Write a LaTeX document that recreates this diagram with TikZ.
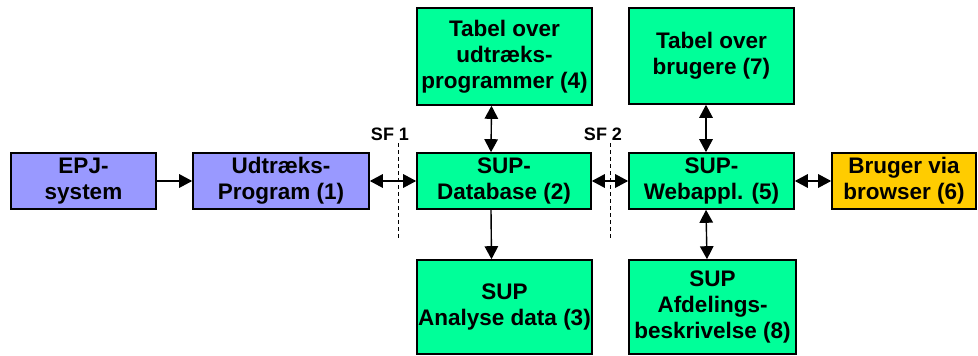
\documentclass[tikz,border=0pt]{standalone}
\usepackage{fontspec}
\setmainfont{Liberation Sans}
\usetikzlibrary{arrows.meta}
\definecolor{epjblue}{RGB}{153,153,255}
\definecolor{supgreen}{RGB}{0,255,153}
\definecolor{useryellow}{RGB}{255,204,0}
\begin{document}
\begin{tikzpicture}[x=1pt,y=-1pt,
  box/.style={draw=black,line width=1.6pt,inner sep=0pt,align=center,
    font=\fontsize{22.5}{26}\selectfont\bfseries,minimum height=56pt},
  bluebox/.style={box,fill=epjblue},
  greenbox/.style={box,fill=supgreen},
  yellowbox/.style={box,fill=useryellow},
  tip/.tip={Triangle[length=13pt,width=13.5pt]},
  link/.style={line width=1.4pt,-tip},
  dlink/.style={line width=1.4pt,tip-tip},
  sfline/.style={line width=0.8pt,dash pattern=on 4pt off 3pt},
  sflabel/.style={font=\fontsize{18}{20}\selectfont\bfseries,inner sep=0pt}]
\useasboundingbox (0,0) rectangle (978,356);

% middle row
\node[bluebox,minimum width=145pt] (epj) at (83.5,181) {EPJ-\\system};
\node[bluebox,minimum width=176pt] (udt) at (281,181) {Udtræks-\\Program (1)};
\node[greenbox,minimum width=174pt] (db) at (504,181) {SUP-\\Database (2)};
\node[greenbox,minimum width=165pt] (web) at (711.5,181) {SUP-\\Webappl. (5)};
\node[yellowbox,minimum width=144pt] (usr) at (904,181) {Bruger via\\browser (6)};

% top row
\node[greenbox,minimum width=175pt,minimum height=97pt] (t4) at (504.5,56.5) {Tabel over\\udtræks-\\programmer (4)};
\node[greenbox,minimum width=165pt,minimum height=96pt] (t7) at (711.5,56) {Tabel over\\brugere (7)};

% bottom row
\node[greenbox,minimum width=175pt,minimum height=94pt] (a3) at (504.5,307) {SUP\\Analyse data (3)};
\node[greenbox,minimum width=167pt,minimum height=94pt] (a8) at (712.5,307) {SUP\\Afdelings-\\beskrivelse (8)};

% horizontal connectors
\draw[link] (epj) -- (udt);
\draw[dlink] (udt) -- (db);
\draw[dlink] (db) -- (web);
\draw[dlink] (web) -- (usr);

% vertical connectors
\draw[dlink] ([xshift=-13pt]t4.south) -- ([xshift=-13pt]db.north);
\draw[link] ([xshift=-13pt]db.south) -- ([xshift=-13pt]a3.north);
\draw[dlink] ([xshift=-5.5pt]t7.south) -- ([xshift=-5.5pt]web.north);
\draw[dlink] ([xshift=-5.5pt]web.south) -- ([xshift=-5.5pt]a8.north);

% interface boundaries
\coordinate (sf1top) at (398,143);
\coordinate (sf1bot) at (398,240);
\coordinate (sf2top) at (610,143);
\coordinate (sf2bot) at (610,240);
\draw[sfline] (sf1top) -- (sf1bot);
\draw[sfline] (sf2top) -- (sf2bot);
\node[sflabel,anchor=base] (sf1) at (390,140) {SF 1};
\node[sflabel,anchor=base] (sf2) at (603,140) {SF 2};
\end{tikzpicture}
\end{document}
